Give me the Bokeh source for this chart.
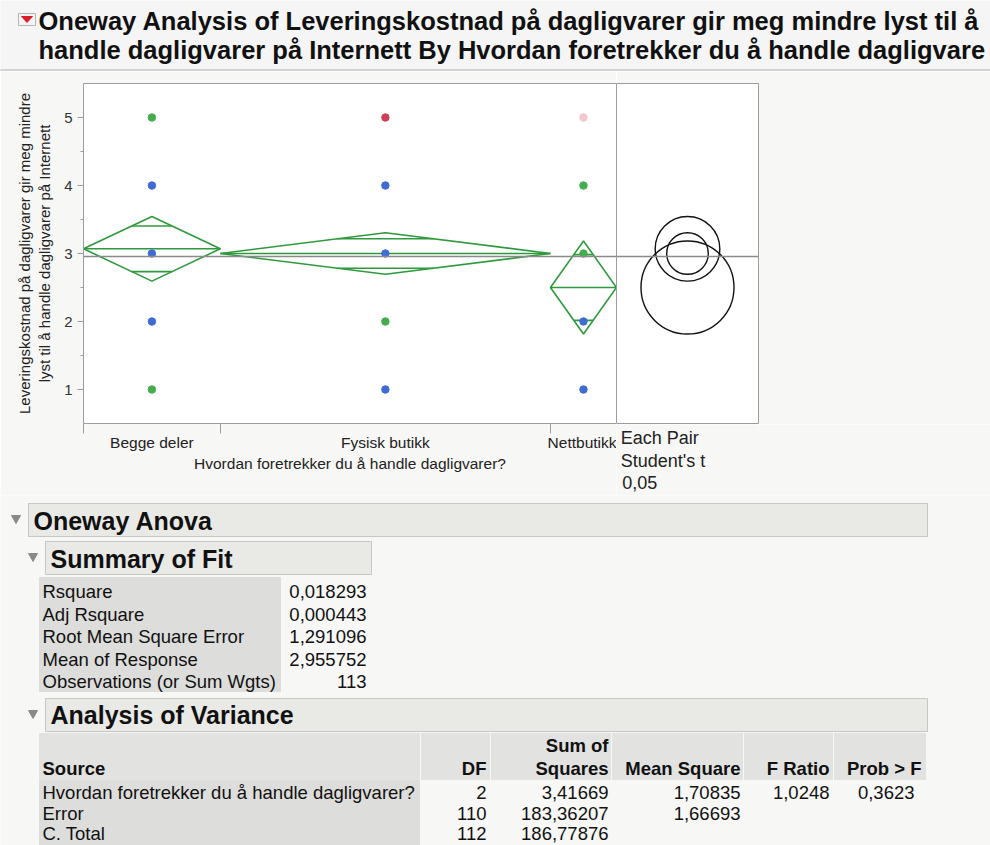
import math

from bokeh.core.properties import value
from bokeh.embed import file_html
from bokeh.layouts import column, row
from bokeh.models import FixedTicker, LinearAxis, Range1d, Span
from bokeh.plotting import figure
from bokeh.resources import INLINE

# ---- data -------------------------------------------------------------
groups = ["Begge deler", "Fysisk butikk", "Nettbutikk"]
group_n = [29, 70, 14]
group_mean = [3.068966, 3.0, 2.5]
grand_mean = 2.955752
rmse = 1.291096
t_crit = 1.98177          # Student's t, alpha 0.05, df 110

response_levels = [1, 2, 3, 4, 5]
GREEN, BLUE, RED, PINK = "#45ad4f", "#3f6bd3", "#cf3f55", "#f1c6cd"
begge_colors = [GREEN, BLUE, BLUE, BLUE, GREEN]
fysisk_colors = [BLUE, GREEN, BLUE, BLUE, RED]
nett_colors = [BLUE, BLUE, GREEN, GREEN, PINK]
point_colors = [begge_colors, fysisk_colors, nett_colors]

y_ticks = [1, 2, 3, 4, 5]
y_minor = [1.5, 2.5, 3.5, 4.5]

summary_labels = ["Rsquare", "Adj Rsquare", "Root Mean Square Error",
                  "Mean of Response", "Observations (or Sum Wgts)"]
summary_values = ["0,018293", "0,000443", "1,291096", "2,955752", "113"]

anova_source = ["Hvordan foretrekker du å handle dagligvarer?", "Error", "C. Total"]
anova_df = ["2", "110", "112"]
anova_ss = ["3,41669", "183,36207", "186,77876"]
anova_ms = ["1,70835", "1,66693", ""]
anova_f = ["1,0248", "", ""]
anova_p = ["0,3623", "", ""]

# ---- derived geometry (group widths proportional to n) -----------------
edges = [0]
for n in group_n:
    edges.append(edges[-1] + n)
centers = [(a + b) / 2 for a, b in zip(edges[:-1], edges[1:])]
ci_half = [t_crit * rmse / math.sqrt(n) for n in group_n]

FONT = "Liberation Sans"
DIAMOND = "#2f9a3d"
AXIS_GREY = "#9c9c9c"
PAGE = "#f7f7f5"
W = 990
TITLE_H = 71
CHART_H = 424
TABLE_H = 845 - TITLE_H - CHART_H
MAIN_W = 616
PAIR_H = 353

y_range = Range1d(0.5, 5.5)

# ---- main one-way plot --------------------------------------------------
p = figure(width=MAIN_W, height=CHART_H, x_range=Range1d(edges[0], edges[-1]), y_range=y_range,
           output_backend="svg", toolbar_location=None,
           min_border_left=83, min_border_right=0, min_border_top=12, min_border_bottom=72)
p.grid.visible = False
p.background_fill_color = "white"
p.border_fill_color = PAGE
p.outline_line_color = None

yax = p.left[0]
yax.ticker = FixedTicker(ticks=y_ticks, minor_ticks=y_minor)
yax.axis_label = "Leveringskostnad på dagligvarer gir meg mindre\nlyst til å handle dagligvarer på Internett"
yax.axis_label_text_font = FONT
yax.axis_label_text_font_size = "15px"
yax.axis_label_text_font_style = "normal"
yax.axis_label_text_color = "#222222"
yax.axis_label_standoff = 8
yax.major_label_text_font = FONT
yax.major_label_text_font_size = "15px"
yax.major_label_text_color = "#333333"
yax.major_tick_out, yax.major_tick_in = 6, 0
yax.minor_tick_out, yax.minor_tick_in = 3, 0
yax.axis_line_color = AXIS_GREY
yax.major_tick_line_color = AXIS_GREY
yax.minor_tick_line_color = AXIS_GREY

xax = p.below[0]
xax.ticker = FixedTicker(ticks=centers, minor_ticks=edges)
xax.major_label_overrides = {c: g for c, g in zip(centers, groups)}
xax.major_label_text_font = FONT
xax.major_label_text_font_size = "15.5px"
xax.major_label_text_color = "#222222"
xax.major_tick_line_color = None
xax.major_tick_out, xax.major_tick_in = 10, 0
xax.minor_tick_out, xax.minor_tick_in = 10, 0
xax.minor_tick_line_color = AXIS_GREY
xax.axis_line_color = AXIS_GREY
xax.major_label_standoff = 0
xax.axis_label = "Hvordan foretrekker du å handle dagligvarer?"
xax.axis_label_text_font = FONT
xax.axis_label_text_font_size = "15.5px"
xax.axis_label_text_font_style = "normal"
xax.axis_label_text_color = "#222222"
xax.axis_label_standoff = 1

# top border of the plot frame (the right border is the circle panel's edge)
p.add_layout(LinearAxis(ticker=FixedTicker(ticks=[]), axis_line_color=AXIS_GREY,
                        major_tick_line_color=None, minor_tick_line_color=None,
                        major_tick_out=0, minor_tick_out=0, major_label_standoff=0), "above")

p.add_layout(Span(location=grand_mean, dimension="width", line_color="#8a8a8a", line_width=1.5))

# means diamonds with overlap marks
xs, ys = [], []
m_x0, m_x1, m_y = [], [], []
o_x0, o_x1, o_y = [], [], []
for i in range(len(groups)):
    l, r, c, m, h = edges[i], edges[i + 1], centers[i], group_mean[i], ci_half[i]
    xs.append([l, c, r, c])
    ys.append([m, m + h, m, m - h])
    m_x0.append(l); m_x1.append(r); m_y.append(m)
    d = h / math.sqrt(2)
    hw = (r - l) / 2 * (1 - d / h)
    for s in (1, -1):
        o_x0.append(c - hw); o_x1.append(c + hw); o_y.append(m + s * d)
p.patches(xs, ys, fill_color=None, line_color=DIAMOND, line_width=1.6)
p.segment(m_x0, m_y, m_x1, m_y, line_color=DIAMOND, line_width=1.6)
p.segment(o_x0, o_y, o_x1, o_y, line_color=DIAMOND, line_width=1.6)

# observations
px, py, pc = [], [], []
for i in range(len(groups)):
    for lvl, col in zip(response_levels, point_colors[i]):
        px.append(centers[i]); py.append(lvl); pc.append(col)
p.scatter(px, py, color=pc, size=7.5)

# ---- comparison circles panel ----------------------------------------
q = figure(width=W - MAIN_W, height=PAIR_H, x_range=Range1d(0, 1), y_range=y_range,
           output_backend="svg", toolbar_location=None, x_axis_type=None, y_axis_type=None,
           min_border_left=0, min_border_right=W - 758, min_border_top=12, min_border_bottom=1)
q.grid.visible = False
q.background_fill_color = "white"
q.border_fill_color = PAGE
q.outline_line_color = AXIS_GREY
q.add_layout(Span(location=grand_mean, dimension="width", line_color="#8a8a8a", line_width=1.5))
q.circle(x=[0.5] * len(groups), y=group_mean, radius=ci_half, radius_dimension="y",
         fill_color=None, line_color="#111111", line_width=1.4)


# ---- report furniture (page pixel coordinates, y downward) --------------
def sheet(x0, y0, width, height, bg):
    f = figure(width=width, height=height, x_range=Range1d(x0, x0 + width),
               y_range=Range1d(y0 + height, y0),
               output_backend="svg", toolbar_location=None, x_axis_type=None, y_axis_type=None,
               min_border=0)
    f.grid.visible = False
    f.outline_line_color = None
    f.background_fill_color = bg
    f.border_fill_color = bg
    return f


def box(f, x0, y0, x1, y1, fill, line=None):
    f.quad(left=[x0], right=[x1], top=[y0], bottom=[y1], fill_color=fill,
           line_color=line if line else fill, line_width=1)


def tri(f, pts, color):
    f.patch([a for a, _ in pts], [b for _, b in pts], fill_color=color, line_color=color)


def txt(f, x, y, s, size=18.5, bold=False, align="left", color="#111111"):
    f.text(x=[x], y=[y], text=[s], text_font=value(FONT), text_font_size=value(f"{size}px"),
           text_font_style="bold" if bold else "normal", text_align=align,
           text_baseline="middle", text_color=color)


# caption under the comparison circles
qb = sheet(MAIN_W, TITLE_H + PAIR_H, W - MAIN_W, CHART_H - PAIR_H, PAGE)
txt(qb, 627, 437, "Each Pair", 18, color="#222222")
txt(qb, 627, 460, "Student's t", 18, color="#222222")
txt(qb, 631, 482, "0,05", 18, color="#222222")

# title band
t = sheet(0, 0, W, TITLE_H, "#f5f5f5")
box(t, 0, 69, W, 71, "#d2d2d2")
box(t, 18, 13, 35, 25, "#f4f4f4", "#b5b5b5")
tri(t, [(21, 16), (32, 16), (26.5, 22)], "#d8202c")
txt(t, 38, 20, "Oneway Analysis of Leveringskostnad på dagligvarer gir meg mindre lyst til å", 25.5, True)
txt(t, 38, 49, "handle dagligvarer på Internett By Hvordan foretrekker du å handle dagligvare", 25.5, True)

# report tables
r = sheet(0, TITLE_H + CHART_H, W, TABLE_H, PAGE)
box(r, 28, 503, 927, 536, "#e9e9e6", "#c6c6c4")
tri(r, [(11, 515), (20, 515), (15.5, 523)], "#8a8a8a")
txt(r, 33, 520, "Oneway Anova", 25, True)

box(r, 45, 541, 371, 574, "#e9e9e6", "#c6c6c4")
tri(r, [(28, 553), (37, 553), (32.5, 561)], "#8a8a8a")
txt(r, 50, 558, "Summary of Fit", 25, True)

box(r, 39, 577, 280, 691, "#dddddb")
for i, (lab, val) in enumerate(zip(summary_labels, summary_values)):
    yy = 591 + i * 22.6
    txt(r, 42, yy, lab)
    txt(r, 366, yy, val, align="right")

box(r, 45, 698, 927, 731, "#e9e9e6", "#c6c6c4")
tri(r, [(28, 710), (37, 710), (32.5, 718)], "#8a8a8a")
txt(r, 50, 714, "Analysis of Variance", 25, True)

for x0, x1 in [(39, 419), (421, 489), (491, 610), (612, 742), (744, 832), (834, 925)]:
    box(r, x0, 733, x1, 779, "#e2e2e0")
box(r, 39, 780, 419, 845, "#dddddb")
txt(r, 42, 768, "Source", bold=True)
txt(r, 486, 768, "DF", bold=True, align="right")
txt(r, 608, 745, "Sum of", bold=True, align="right")
txt(r, 608, 768, "Squares", bold=True, align="right")
txt(r, 740, 768, "Mean Square", bold=True, align="right")
txt(r, 829, 768, "F Ratio", bold=True, align="right")
txt(r, 921, 768, "Prob > F", bold=True, align="right")
for i in range(3):
    yy = 792 + i * 20.5
    txt(r, 42, yy, anova_source[i])
    for xr, col in [(486, anova_df), (608, anova_ss), (740, anova_ms), (829, anova_f), (914, anova_p)]:
        if col[i]:
            txt(r, xr, yy, col[i], align="right")

page = column(t, row(p, column(q, qb, spacing=0), spacing=0), r, spacing=0)
open("out.html", "w").write(file_html(page, INLINE))
